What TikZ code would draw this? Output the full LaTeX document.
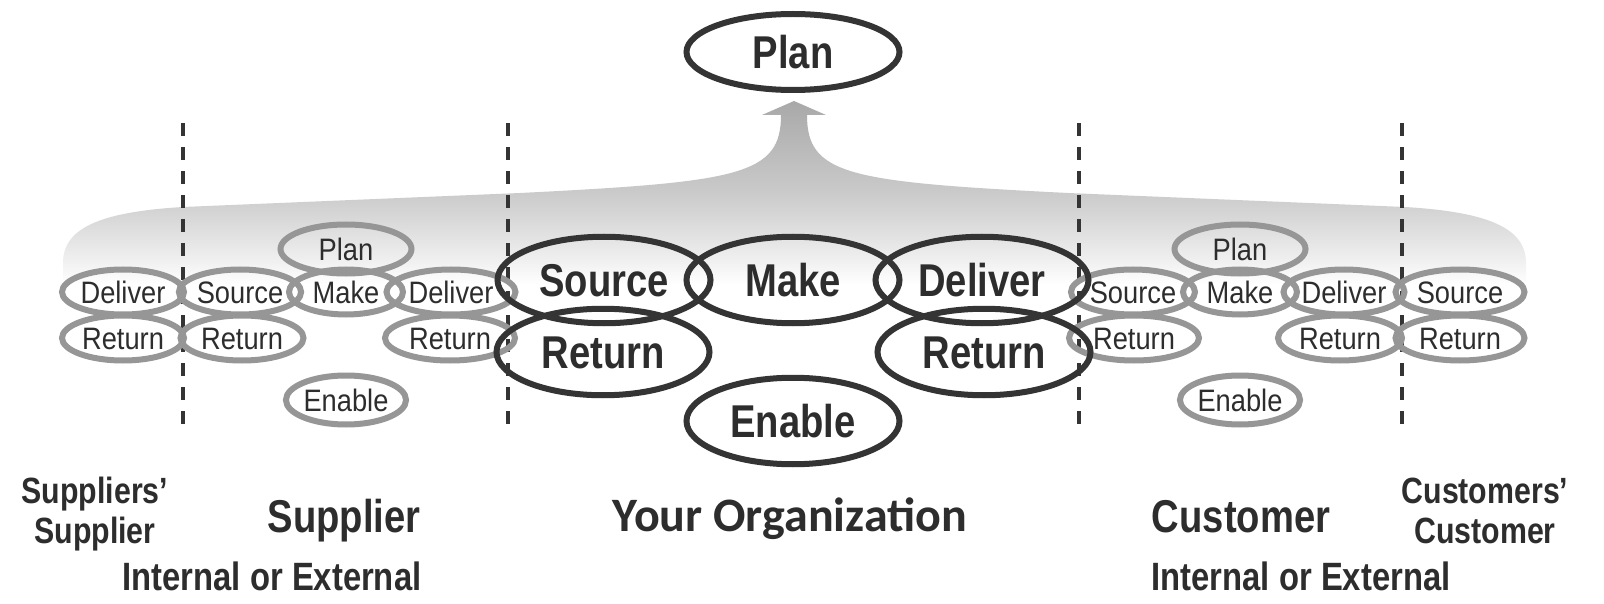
\documentclass[tikz,border=0pt]{standalone}
\usepackage{fontspec}
\usetikzlibrary{shapes.geometric}
\newfontfamily\nreg[FakeStretch=0.88]{Liberation Sans}
\newfontfamily\nbold[FakeStretch=0.83]{Liberation Sans}
\newfontfamily\calib{Carlito}
\definecolor{dk}{RGB}{52,52,52}
\definecolor{lg}{RGB}{150,150,150}
\definecolor{txt}{RGB}{45,45,45}
\definecolor{gA}{gray}{0.94}
\definecolor{gB}{gray}{0.84}
\definecolor{gC}{gray}{0.79}
\definecolor{gD}{gray}{0.66}
\pgfdeclareverticalshading{bandshade}{100bp}{color(0bp)=(white); color(30bp)=(white); color(36bp)=(gA); color(47bp)=(gB); color(53bp)=(gC); color(75bp)=(gD); color(100bp)=(gD)}
\begin{document}
\begin{tikzpicture}[x=1pt,y=-1pt,
  sm/.style={ellipse, draw=lg, line width=6pt, inner sep=0pt, minimum height=45pt,
    text=txt, font=\nreg\fontsize{31}{31}\selectfont, text height=22.2pt, text depth=0pt},
  bg/.style={ellipse, draw=dk, line width=6pt, inner sep=0pt, minimum width=213pt, minimum height=86.5pt,
    text=txt, font=\nbold\bfseries\fontsize{46}{46}\selectfont, text height=33pt, text depth=0pt},
  sep/.style={draw=dk, line width=4pt, dash pattern=on 13pt off 11pt},
  labs/.style={anchor=base, inner sep=0pt, text=txt, font=\nbold\bfseries\fontsize{36.5}{36.5}\selectfont},
  labb/.style={anchor=base, inner sep=0pt, text=txt, font=\nbold\bfseries\fontsize{46}{46}\selectfont},
  labm/.style={anchor=base, inner sep=0pt, text=txt, font=\nbold\bfseries\fontsize{39.5}{39.5}\selectfont}
]
\useasboundingbox (0,0) rectangle (1604,604);
\fill[white] (0,0) rectangle (1604,604);
% shaded band with arrow
\shade[shading=bandshade] (63,305) -- (63,263) .. controls (63,228) and (100,212) .. (183,207)
  -- (520,193) .. controls (740,182) and (781,175) .. (781,115) -- (762,115) -- (794,101)
  -- (826,115) -- (807,115) .. controls (807,175) and (848,182) .. (1068,193)
  -- (1405,207) .. controls (1488,212) and (1526,228) .. (1526,263) -- (1526,305) -- cycle;
% separators
\coordinate (d1t) at (183,123); \coordinate (d1b) at (183,424);
\coordinate (d2t) at (508,123); \coordinate (d2b) at (508,424);
\coordinate (d3t) at (1079,123); \coordinate (d3b) at (1079,424);
\coordinate (d4t) at (1402,123); \coordinate (d4b) at (1402,424);
\draw[sep] (d1t) -- (d1b);
\draw[sep] (d2t) -- (d2b);
\draw[sep] (d3t) -- (d3b);
\draw[sep] (d4t) -- (d4b);
% suppliers' supplier
\node[sm, minimum width=122pt] (ssD) at (123,292) {Deliver};
\node[sm, minimum width=122pt] (ssR) at (123,338) {Return};
% supplier
\node[sm, minimum width=119pt] (sS) at (240,292) {Source};
\node[sm, minimum width=123pt] (sR1) at (242,338) {Return};
\node[sm, minimum width=131pt, minimum height=49pt] (sP) at (346,249) {Plan};
\node[sm, minimum width=114pt] (sM) at (346,292) {Make};
\node[sm, minimum width=129pt] (sD) at (451,292) {Deliver};
\node[sm, minimum width=130pt] (sR2) at (450,338) {Return};
\node[sm, minimum width=119pt, minimum height=49pt] (sE) at (346,400) {Enable};
% customer
\node[sm, minimum width=124pt] (cS) at (1133,292) {Source};
\node[sm, minimum width=130pt] (cR1) at (1134,338) {Return};
\node[sm, minimum width=131pt, minimum height=49pt] (cP) at (1240,249) {Plan};
\node[sm, minimum width=114pt] (cM) at (1240,292) {Make};
\node[sm, minimum width=121pt] (cD) at (1344,292) {Deliver};
\node[sm, minimum width=124pt] (cR2) at (1340,338) {Return};
\node[sm, minimum width=119pt, minimum height=49pt] (cE) at (1240,400) {Enable};
% customers' customer
\node[sm, minimum width=129pt] (ccS) at (1460,292) {Source};
\node[sm, minimum width=129pt] (ccR) at (1460,338) {Return};
% your organization
\node[bg, minimum height=76pt] (oP) at (793,52) {Plan};
\node[bg] (oS) at (604,280) {Source};
\node[bg] (oM) at (793,280) {Make};
\node[bg] (oD) at (982,280) {Deliver};
\node[bg] (oR1) at (603,352) {Return};
\node[bg] (oR2) at (984,352) {Return};
\node[bg] (oE) at (793,421) {Enable};
% labels
\node[labs] (l1) at (95,503) {Suppliers’};
\node[labs] (l2) at (95,543) {Supplier};
\node[labb] (l3) at (344,532) {Supplier};
\node[labm] (l4) at (272,590) {Internal or External};
\node[anchor=base, inner sep=0pt, text=txt, font=\calib\bfseries\fontsize{48}{48}\selectfont] (l5) at (790,531) {Your Organization};
\node[labb] (l6) at (1241,532) {Customer};
\node[labm] (l7) at (1301,590) {Internal or External};
\node[labs] (l8) at (1485,503) {Customers’};
\node[labs] (l9) at (1485,543) {Customer};
\end{tikzpicture}
\end{document}
